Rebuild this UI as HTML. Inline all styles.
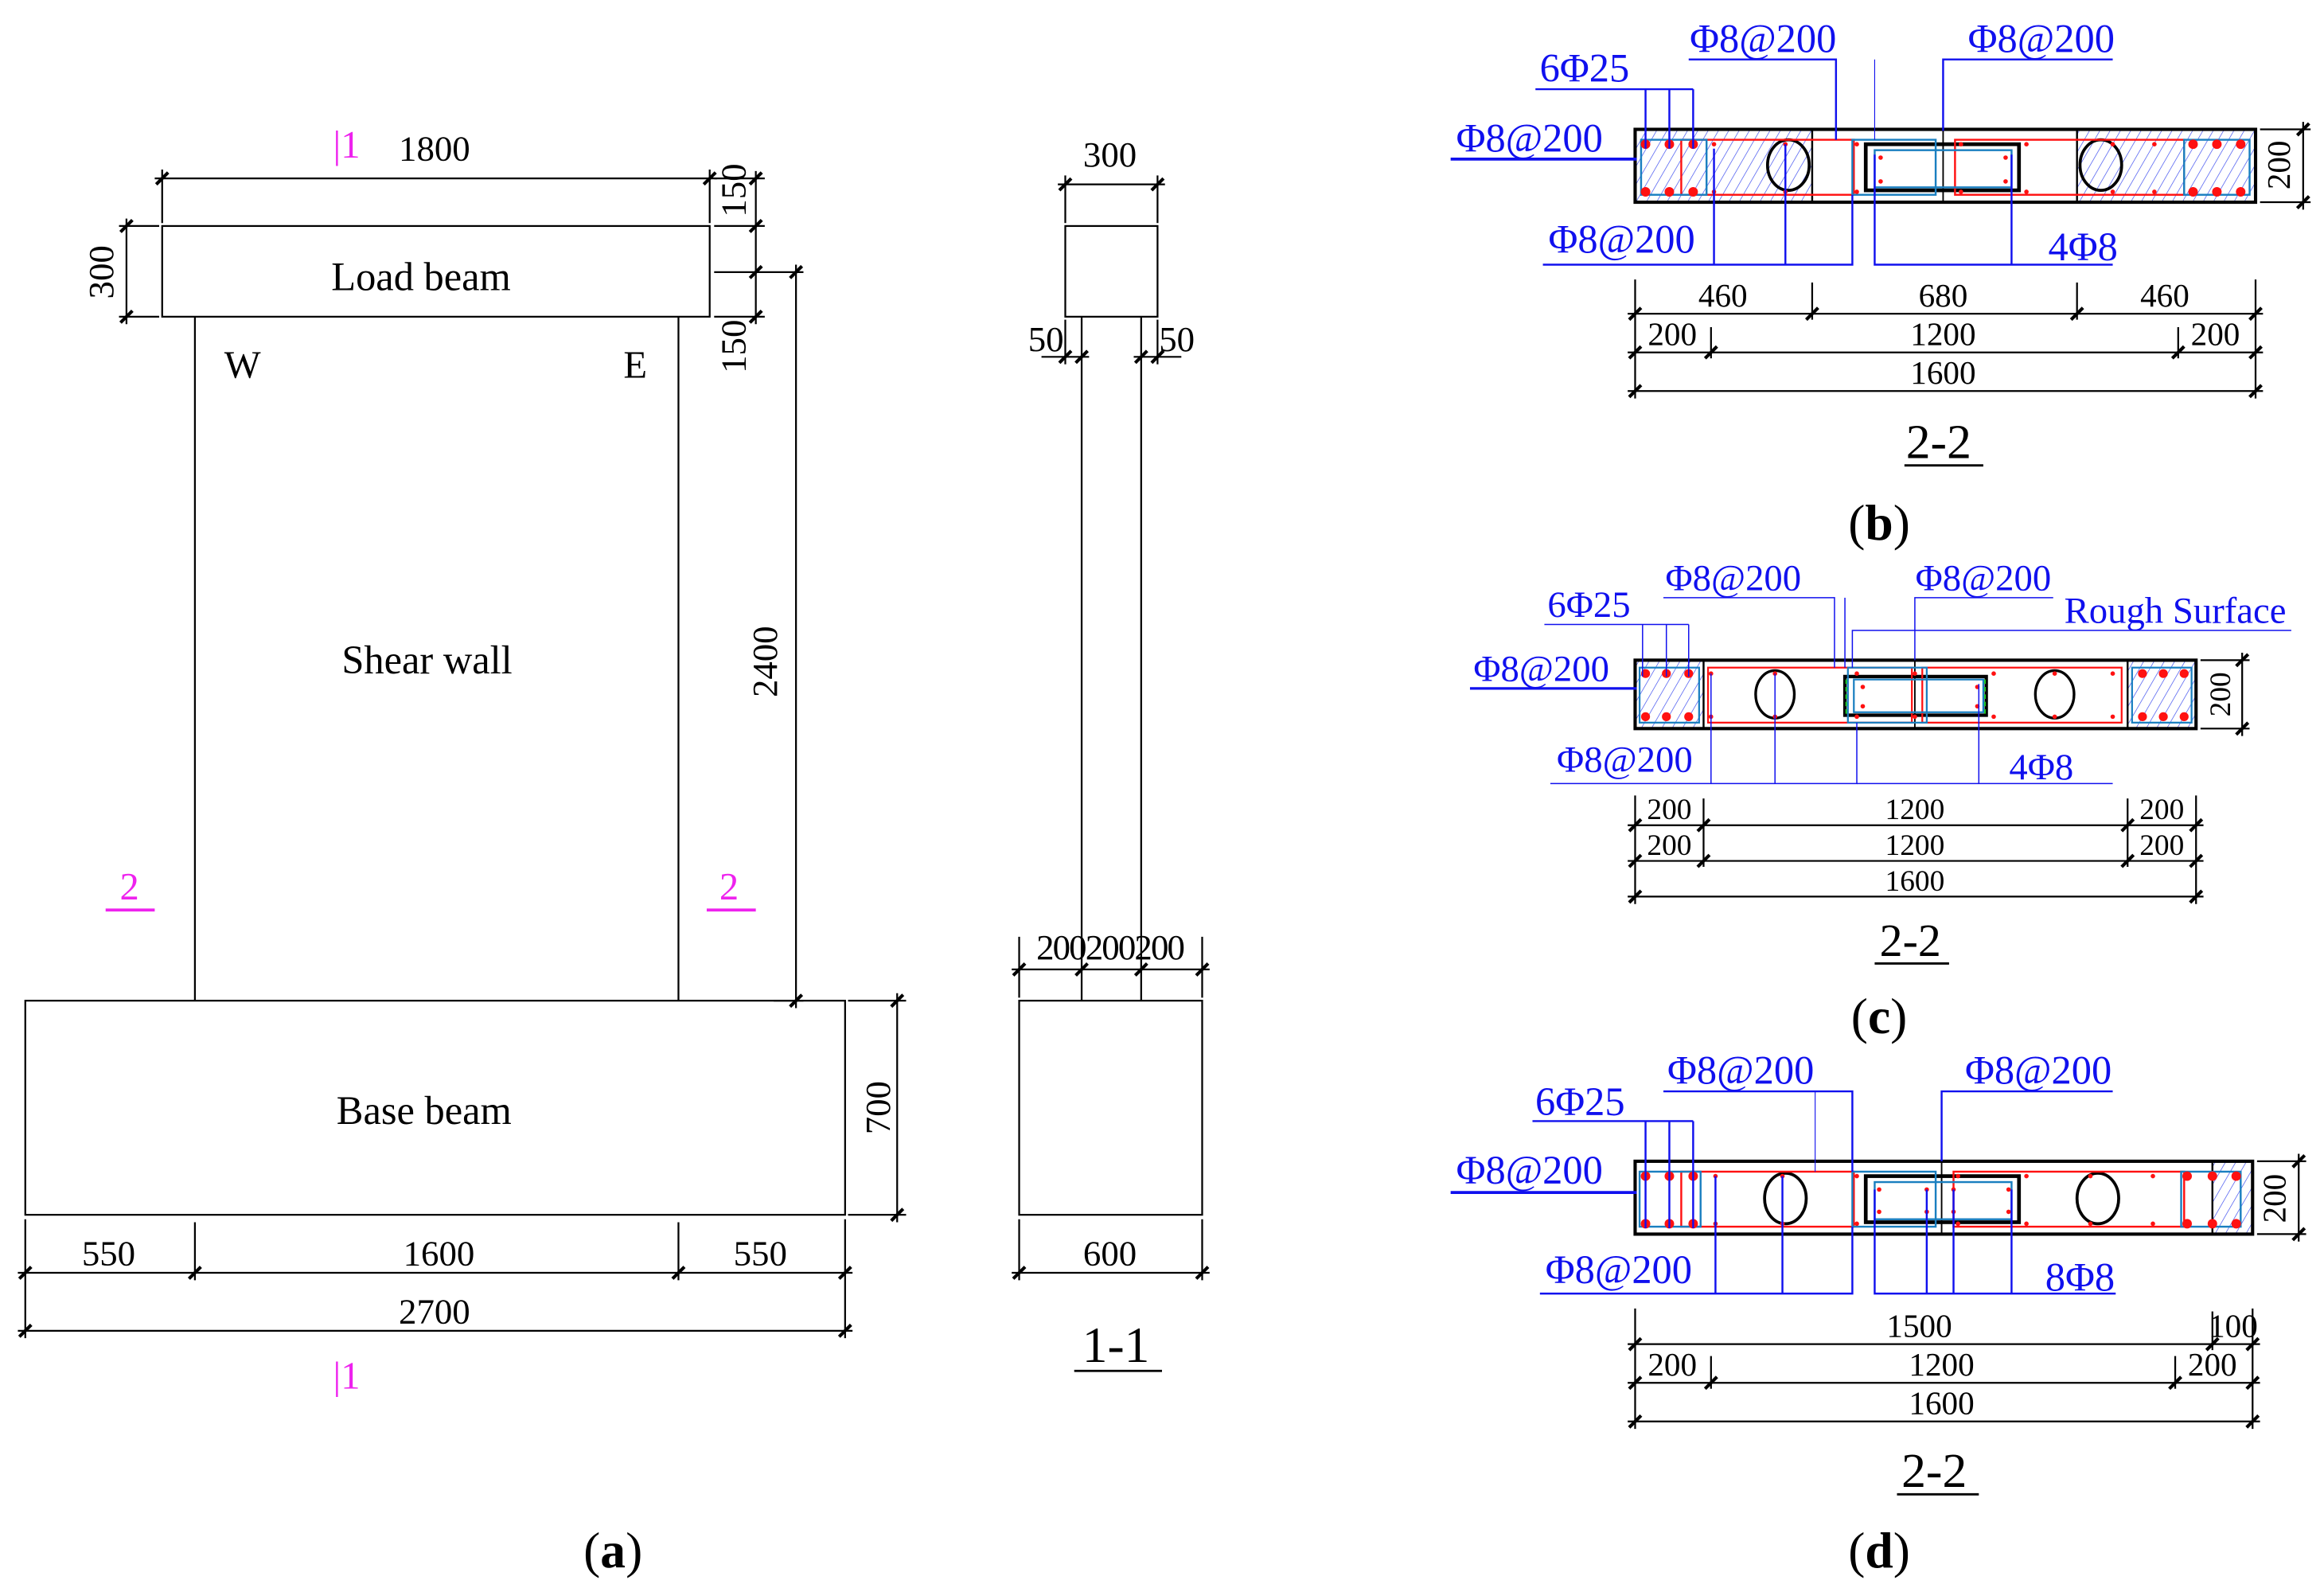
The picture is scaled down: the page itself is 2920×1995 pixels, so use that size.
<!DOCTYPE html>
<html><head><meta charset="utf-8"><style>
html,body{margin:0;padding:0;background:#fff;}
svg{display:block;}
text{font-family:"Liberation Serif",serif;}
</style></head><body>
<svg width="2920" height="1995" viewBox="0 0 1562 1068" preserveAspectRatio="none" xmlns="http://www.w3.org/2000/svg">
<defs>
<pattern id="h" patternUnits="userSpaceOnUse" width="6" height="6" patternTransform="rotate(30)">
<line x1="0" y1="0" x2="0" y2="6" stroke="#3344ee" stroke-width="0.7"/>
</pattern>
</defs>
<rect width="1562" height="1068" fill="#fff"/>

<!-- ===== Panel (a) ===== -->
<g stroke="#000" stroke-width="1.2" fill="none">
<rect x="109" y="152" width="368" height="61"/>
<line x1="131" y1="213" x2="131" y2="673"/>
<line x1="456" y1="213" x2="456" y2="673"/>
<rect x="17" y="673" width="551" height="144"/>
<!-- 1800 -->
<line x1="104" y1="120" x2="482" y2="120"/>
<line x1="109" y1="114" x2="109" y2="150"/><line x1="477" y1="114" x2="477" y2="150"/>
<!-- 300 -->
<line x1="85" y1="147" x2="85" y2="218"/>
<line x1="80" y1="152" x2="107" y2="152"/><line x1="80" y1="213" x2="107" y2="213"/>
<!-- right 150/150 -->
<line x1="508" y1="115" x2="508" y2="218"/>
<line x1="480" y1="120" x2="514" y2="120"/><line x1="480" y1="152" x2="514" y2="152"/>
<line x1="480" y1="183" x2="540" y2="183"/><line x1="480" y1="213" x2="514" y2="213"/>
<!-- 2400 -->
<line x1="535" y1="178" x2="535" y2="678"/>
<line x1="520" y1="673" x2="540" y2="673"/>
<!-- 700 -->
<line x1="603" y1="668" x2="603" y2="822"/>
<line x1="570" y1="673" x2="609" y2="673"/><line x1="570" y1="817" x2="609" y2="817"/>
<!-- bottom dims -->
<line x1="12" y1="856" x2="573" y2="856"/>
<line x1="12" y1="895" x2="573" y2="895"/>
<line x1="17" y1="820" x2="17" y2="900"/><line x1="568" y1="820" x2="568" y2="900"/>
<line x1="131" y1="822" x2="131" y2="861"/><line x1="456" y1="822" x2="456" y2="861"/>
</g>
<g stroke="#000" stroke-width="2.2">
<line x1="105" y1="124" x2="113" y2="116"/><line x1="473" y1="124" x2="481" y2="116"/>
<line x1="81" y1="156" x2="89" y2="148"/><line x1="81" y1="217" x2="89" y2="209"/>
<line x1="504" y1="124" x2="512" y2="116"/><line x1="504" y1="156" x2="512" y2="148"/>
<line x1="504" y1="187" x2="512" y2="179"/><line x1="504" y1="217" x2="512" y2="209"/>
<line x1="531" y1="187" x2="539" y2="179"/><line x1="531" y1="677" x2="539" y2="669"/>
<line x1="599" y1="677" x2="607" y2="669"/><line x1="599" y1="821" x2="607" y2="813"/>
<line x1="13" y1="860" x2="21" y2="852"/><line x1="127" y1="860" x2="135" y2="852"/>
<line x1="452" y1="860" x2="460" y2="852"/><line x1="564" y1="860" x2="572" y2="852"/>
<line x1="13" y1="899" x2="21" y2="891"/><line x1="564" y1="899" x2="572" y2="891"/>
</g>
<g font-size="24" fill="#000" text-anchor="middle">
<text x="292" y="108">1800</text>
<text x="283" y="195" font-size="27">Load beam</text>
<text x="287" y="453" font-size="27">Shear wall</text>
<text x="285" y="756" font-size="27">Base beam</text>
<text x="163" y="254" font-size="26">W</text>
<text x="427" y="254" font-size="26">E</text>
<text x="73" y="851">550</text><text x="295" y="851">1600</text><text x="511" y="851">550</text>
<text x="292" y="890">2700</text>
<text transform="translate(76,183) rotate(-90)">300</text>
<text transform="translate(501,128) rotate(-90)">150</text>
<text transform="translate(501,233) rotate(-90)">150</text>
<text transform="translate(522,445) rotate(-90)">2400</text>
<text transform="translate(598,745) rotate(-90)">700</text>
</g>
<g fill="#ee22ee" font-size="26" text-anchor="middle">
<text x="233" y="106">|1</text>
<text x="233" y="934">|1</text>
<text x="87" y="605">2</text>
<text x="490" y="605">2</text>
</g>
<g stroke="#ee22ee" stroke-width="2">
<line x1="71" y1="612" x2="104" y2="612"/><line x1="475" y1="612" x2="508" y2="612"/>
</g>

<!-- ===== Section 1-1 ===== -->
<g stroke="#000" stroke-width="1.2" fill="none">
<rect x="716" y="152" width="62" height="61"/>
<line x1="727" y1="213" x2="727" y2="673"/>
<line x1="767" y1="213" x2="767" y2="673"/>
<rect x="685" y="673" width="123" height="144"/>
<line x1="711" y1="124" x2="783" y2="124"/>
<line x1="716" y1="118" x2="716" y2="150"/><line x1="778" y1="118" x2="778" y2="150"/>
<line x1="700" y1="240" x2="732" y2="240"/><line x1="762" y1="240" x2="794" y2="240"/>
<line x1="716" y1="215" x2="716" y2="245"/><line x1="778" y1="215" x2="778" y2="245"/>
<line x1="680" y1="652" x2="813" y2="652"/>
<line x1="685" y1="630" x2="685" y2="671"/><line x1="808" y1="630" x2="808" y2="671"/>
<line x1="680" y1="856" x2="813" y2="856"/>
<line x1="685" y1="820" x2="685" y2="861"/><line x1="808" y1="820" x2="808" y2="861"/>
</g>
<g stroke="#000" stroke-width="2.2">
<line x1="712" y1="128" x2="720" y2="120"/><line x1="774" y1="128" x2="782" y2="120"/>
<line x1="712" y1="244" x2="720" y2="236"/><line x1="723" y1="244" x2="731" y2="236"/>
<line x1="763" y1="244" x2="771" y2="236"/><line x1="774" y1="244" x2="782" y2="236"/>
<line x1="681" y1="656" x2="689" y2="648"/><line x1="723" y1="656" x2="731" y2="648"/>
<line x1="763" y1="656" x2="771" y2="648"/><line x1="804" y1="656" x2="812" y2="648"/>
<line x1="681" y1="860" x2="689" y2="852"/><line x1="804" y1="860" x2="812" y2="852"/>
</g>
<g font-size="24" fill="#000" text-anchor="middle">
<text x="746" y="112">300</text>
<text x="703" y="236">50</text><text x="791" y="236">50</text>
<text x="746" y="645" letter-spacing="-1">200200200</text>
<text x="746" y="851">600</text>
<text x="750" y="916" font-size="34">1-1</text>
<text x="412" y="1054" font-size="34">(<tspan font-weight="bold">a</tspan>)</text>
<text x="1263" y="363" font-size="34">(<tspan font-weight="bold">b</tspan>)</text>
<text x="1263" y="695" font-size="34">(<tspan font-weight="bold">c</tspan>)</text>
<text x="1263" y="1054" font-size="34">(<tspan font-weight="bold">d</tspan>)</text>
</g>
<line x1="722" y1="922" x2="781" y2="922" stroke="#000" stroke-width="1.5"/>

<!-- ===== Panel (b) ===== -->
<g>
<rect x="1099" y="87" width="119" height="49" fill="url(#h)"/>
<rect x="1396" y="87" width="120" height="49" fill="url(#h)"/>
<g fill="none" stroke="#000">
<rect x="1099" y="87" width="417" height="49" stroke-width="2.2"/>
<line x1="1218" y1="87" x2="1218" y2="136" stroke-width="1.3"/>
<line x1="1396" y1="87" x2="1396" y2="136" stroke-width="1.3"/>
<rect x="1254" y="97" width="103" height="31" stroke-width="2.5"/>
<ellipse cx="1202" cy="111" rx="14" ry="17" stroke-width="2"/>
<ellipse cx="1412" cy="111" rx="14" ry="17" stroke-width="2"/>
<line x1="1306" y1="87" x2="1306" y2="136" stroke-width="1"/>
</g>
<g fill="none" stroke="#ff1111" stroke-width="1.3">
<rect x="1130" y="94" width="116" height="37"/>
<rect x="1314" y="94" width="154" height="37"/>
</g>
<g fill="none" stroke="#1a7fc0" stroke-width="1.3">
<rect x="1103" y="94" width="44" height="37"/>
<rect x="1468" y="94" width="44" height="37"/>
<rect x="1245" y="94" width="56" height="37"/>
<rect x="1260" y="101" width="92" height="25"/>
</g>
<g fill="#ff1111">
<circle cx="1106" cy="97" r="3.2"/><circle cx="1122" cy="97" r="3.2"/><circle cx="1138" cy="97" r="3.2"/>
<circle cx="1106" cy="129" r="3.2"/><circle cx="1122" cy="129" r="3.2"/><circle cx="1138" cy="129" r="3.2"/>
<circle cx="1474" cy="97" r="3.2"/><circle cx="1490" cy="97" r="3.2"/><circle cx="1506" cy="97" r="3.2"/>
<circle cx="1474" cy="129" r="3.2"/><circle cx="1490" cy="129" r="3.2"/><circle cx="1506" cy="129" r="3.2"/>
<circle cx="1152" cy="97" r="1.5"/><circle cx="1200" cy="97" r="1.5"/><circle cx="1152" cy="129" r="1.5"/><circle cx="1200" cy="129" r="1.5"/>
<circle cx="1248" cy="97" r="1.5"/><circle cx="1248" cy="129" r="1.5"/><circle cx="1318" cy="97" r="1.5"/><circle cx="1318" cy="129" r="1.5"/>
<circle cx="1362" cy="97" r="1.5"/><circle cx="1362" cy="129" r="1.5"/><circle cx="1420" cy="97" r="1.5"/><circle cx="1420" cy="129" r="1.5"/><circle cx="1448" cy="97" r="1.5"/><circle cx="1448" cy="129" r="1.5"/>
<circle cx="1264" cy="106" r="1.5"/><circle cx="1348" cy="106" r="1.5"/><circle cx="1264" cy="122" r="1.5"/><circle cx="1348" cy="122" r="1.5"/>
</g>
<g stroke="#1010ee" fill="none" stroke-width="1.3">
<polyline points="1032,60 1138,60"/>
<line x1="1106" y1="60" x2="1106" y2="100"/><line x1="1122" y1="60" x2="1122" y2="100"/><line x1="1138" y1="60" x2="1138" y2="100"/>
<polyline points="1135,40 1234,40 1234,94"/>
<line x1="1260" y1="40" x2="1260" y2="94" stroke-width="0.6"/>
<polyline points="1420,40 1306,40 1306,88"/>
<line x1="975" y1="107" x2="1100" y2="107" stroke-width="2"/>
<polyline points="1037,178 1245,178 1245,131"/>
<line x1="1152" y1="178" x2="1152" y2="100"/><line x1="1200" y1="178" x2="1200" y2="97"/>
<polyline points="1420,178 1260,178 1260,104"/>
<line x1="1352" y1="178" x2="1352" y2="104"/>
</g>
<g fill="#1010ee" font-size="27" text-anchor="middle">
<text x="1065" y="55">6Φ25</text>
<text x="1185" y="35">Φ8@200</text>
<text x="1372" y="35">Φ8@200</text>
<text x="1028" y="102">Φ8@200</text>
<text x="1090" y="170">Φ8@200</text>
<text x="1400" y="175">4Φ8</text>
</g>
<g stroke="#000" stroke-width="1.2" fill="none">
<line x1="1519" y1="87" x2="1553" y2="87"/><line x1="1519" y1="136" x2="1553" y2="136"/>
<line x1="1548" y1="82" x2="1548" y2="141"/>
<line x1="1094" y1="211" x2="1521" y2="211"/>
<line x1="1094" y1="237" x2="1521" y2="237"/>
<line x1="1094" y1="263" x2="1521" y2="263"/>
<line x1="1099" y1="188" x2="1099" y2="268"/><line x1="1516" y1="188" x2="1516" y2="268"/>
<line x1="1218" y1="190" x2="1218" y2="215"/><line x1="1396" y1="190" x2="1396" y2="215"/>
<line x1="1150" y1="220" x2="1150" y2="241"/><line x1="1464" y1="220" x2="1464" y2="241"/>
</g>
<g stroke="#000" stroke-width="2.2">
<line x1="1544" y1="91" x2="1552" y2="83"/><line x1="1544" y1="140" x2="1552" y2="132"/>
<line x1="1095" y1="215" x2="1103" y2="207"/><line x1="1214" y1="215" x2="1222" y2="207"/><line x1="1392" y1="215" x2="1400" y2="207"/><line x1="1512" y1="215" x2="1520" y2="207"/>
<line x1="1095" y1="241" x2="1103" y2="233"/><line x1="1146" y1="241" x2="1154" y2="233"/><line x1="1460" y1="241" x2="1468" y2="233"/><line x1="1512" y1="241" x2="1520" y2="233"/>
<line x1="1095" y1="267" x2="1103" y2="259"/><line x1="1512" y1="267" x2="1520" y2="259"/>
</g>
<g font-size="22" text-anchor="middle" fill="#000">
<text transform="translate(1539,111) rotate(-90)">200</text>
<text x="1158" y="206">460</text><text x="1306" y="206">680</text><text x="1455" y="206">460</text>
<text x="1124" y="232">200</text><text x="1306" y="232">1200</text><text x="1489" y="232">200</text>
<text x="1306" y="258">1600</text>
<text x="1303" y="308" font-size="33">2-2</text>
</g>
<line x1="1280" y1="313" x2="1333" y2="313" stroke="#000" stroke-width="1.5"/>
</g>

<!-- ===== Panel (c) ===== -->
<g>
<rect x="1099" y="444" width="46" height="46" fill="url(#h)"/>
<rect x="1430" y="444" width="46" height="46" fill="url(#h)"/>
<g fill="none" stroke="#000">
<rect x="1099" y="444" width="377" height="46" stroke-width="2.2"/>
<line x1="1145" y1="444" x2="1145" y2="490" stroke-width="1.3"/>
<line x1="1430" y1="444" x2="1430" y2="490" stroke-width="1.3"/>
<rect x="1240" y="455" width="95" height="26" stroke-width="2.3"/>
<ellipse cx="1193" cy="467" rx="13" ry="16" stroke-width="1.8"/>
<ellipse cx="1381" cy="467" rx="13" ry="16" stroke-width="1.8"/>
<line x1="1287" y1="444" x2="1287" y2="490" stroke-width="1"/>
</g>
<line x1="1241" y1="457" x2="1241" y2="480" stroke="#22cc22" stroke-width="1.3" stroke-dasharray="3,2"/>
<line x1="1334" y1="457" x2="1334" y2="480" stroke="#22cc22" stroke-width="1.3" stroke-dasharray="3,2"/>
<g fill="none" stroke="#ff1111" stroke-width="1.2">
<rect x="1148" y="449" width="137" height="37"/>
<rect x="1292" y="449" width="134" height="37"/>
</g>
<g fill="none" stroke="#1a7fc0" stroke-width="1.2">
<rect x="1102" y="449" width="40" height="37"/>
<rect x="1433" y="449" width="40" height="37"/>
<rect x="1242" y="449" width="53" height="37"/>
<rect x="1246" y="457" width="87" height="22"/>
</g>
<g fill="#ff1111">
<circle cx="1106" cy="453" r="3"/><circle cx="1120" cy="453" r="3"/><circle cx="1135" cy="453" r="3"/>
<circle cx="1106" cy="482" r="3"/><circle cx="1120" cy="482" r="3"/><circle cx="1135" cy="482" r="3"/>
<circle cx="1440" cy="453" r="3"/><circle cx="1454" cy="453" r="3"/><circle cx="1468" cy="453" r="3"/>
<circle cx="1440" cy="482" r="3"/><circle cx="1454" cy="482" r="3"/><circle cx="1468" cy="482" r="3"/>
<circle cx="1150" cy="453" r="1.5"/><circle cx="1193" cy="453" r="1.5"/><circle cx="1150" cy="482" r="1.5"/><circle cx="1193" cy="482" r="1.5"/>
<circle cx="1248" cy="453" r="1.5"/><circle cx="1248" cy="482" r="1.5"/><circle cx="1287" cy="453" r="1.5"/><circle cx="1287" cy="482" r="1.5"/>
<circle cx="1340" cy="453" r="1.5"/><circle cx="1340" cy="482" r="1.5"/><circle cx="1381" cy="453" r="1.5"/><circle cx="1381" cy="482" r="1.5"/><circle cx="1420" cy="453" r="1.5"/><circle cx="1420" cy="482" r="1.5"/>
<circle cx="1252" cy="462" r="1.5"/><circle cx="1329" cy="462" r="1.5"/><circle cx="1252" cy="475" r="1.5"/><circle cx="1329" cy="475" r="1.5"/>
</g>
<g stroke="#1010ee" fill="none" stroke-width="0.8">
<polyline points="1038,420 1135,420"/>
<line x1="1104" y1="420" x2="1104" y2="455"/><line x1="1120" y1="420" x2="1120" y2="455"/><line x1="1135" y1="420" x2="1135" y2="455"/>
<polyline points="1118,402 1233,402 1233,449"/>
<line x1="1240" y1="402" x2="1240" y2="449"/>
<polyline points="1380,402 1287,402 1287,444"/>
<polyline points="1540,424 1245,424 1245,449"/>
<line x1="988" y1="463" x2="1100" y2="463" stroke-width="1.8"/>
<polyline points="1042,527 1248,527 1248,486"/>
<line x1="1150" y1="527" x2="1150" y2="453"/><line x1="1193" y1="527" x2="1193" y2="453"/>
<polyline points="1420,527 1248,527"/>
<line x1="1330" y1="527" x2="1330" y2="460"/>
</g>
<g fill="#1010ee" font-size="25" text-anchor="middle">
<text x="1068" y="415">6Φ25</text>
<text x="1165" y="397">Φ8@200</text>
<text x="1333" y="397">Φ8@200</text>
<text x="1462" y="419">Rough Surface</text>
<text x="1036" y="458">Φ8@200</text>
<text x="1092" y="519">Φ8@200</text>
<text x="1372" y="524">4Φ8</text>
</g>
<g stroke="#000" stroke-width="1.2" fill="none">
<line x1="1479" y1="444" x2="1512" y2="444"/><line x1="1479" y1="490" x2="1512" y2="490"/>
<line x1="1507" y1="439" x2="1507" y2="495"/>
<line x1="1094" y1="555" x2="1481" y2="555"/>
<line x1="1094" y1="579" x2="1481" y2="579"/>
<line x1="1094" y1="603" x2="1481" y2="603"/>
<line x1="1099" y1="535" x2="1099" y2="608"/><line x1="1476" y1="535" x2="1476" y2="608"/>
<line x1="1145" y1="537" x2="1145" y2="583"/><line x1="1430" y1="537" x2="1430" y2="583"/>
</g>
<g stroke="#000" stroke-width="2.2">
<line x1="1503" y1="448" x2="1511" y2="440"/><line x1="1503" y1="494" x2="1511" y2="486"/>
<line x1="1095" y1="559" x2="1103" y2="551"/><line x1="1141" y1="559" x2="1149" y2="551"/><line x1="1426" y1="559" x2="1434" y2="551"/><line x1="1472" y1="559" x2="1480" y2="551"/>
<line x1="1095" y1="583" x2="1103" y2="575"/><line x1="1141" y1="583" x2="1149" y2="575"/><line x1="1426" y1="583" x2="1434" y2="575"/><line x1="1472" y1="583" x2="1480" y2="575"/>
<line x1="1095" y1="607" x2="1103" y2="599"/><line x1="1472" y1="607" x2="1480" y2="599"/>
</g>
<g font-size="20" text-anchor="middle" fill="#000">
<text transform="translate(1499,467) rotate(-90)">200</text>
<text x="1122" y="551">200</text><text x="1287" y="551">1200</text><text x="1453" y="551">200</text>
<text x="1122" y="575">200</text><text x="1287" y="575">1200</text><text x="1453" y="575">200</text>
<text x="1287" y="599">1600</text>
<text x="1284" y="643" font-size="31">2-2</text>
</g>
<line x1="1260" y1="648" x2="1310" y2="648" stroke="#000" stroke-width="1.5"/>
</g>

<!-- ===== Panel (d) ===== -->
<g>
<rect x="1487" y="781" width="27" height="49" fill="url(#h)"/>
<g fill="none" stroke="#000">
<rect x="1099" y="781" width="415" height="49" stroke-width="2.2"/>
<line x1="1487" y1="781" x2="1487" y2="830" stroke-width="1.3"/>
<rect x="1254" y="791" width="103" height="31" stroke-width="2.5"/>
<ellipse cx="1200" cy="806" rx="14" ry="17" stroke-width="2"/>
<ellipse cx="1410" cy="806" rx="14" ry="17" stroke-width="2"/>
<line x1="1305" y1="781" x2="1305" y2="830" stroke-width="1"/>
</g>
<g fill="none" stroke="#ff1111" stroke-width="1.3">
<rect x="1130" y="788" width="116" height="37"/>
<rect x="1313" y="788" width="155" height="37"/>
</g>
<g fill="none" stroke="#1a7fc0" stroke-width="1.3">
<rect x="1102" y="788" width="41" height="37"/>
<rect x="1466" y="788" width="40" height="37"/>
<rect x="1245" y="788" width="56" height="37"/>
<rect x="1260" y="795" width="92" height="25"/>
</g>
<g fill="#ff1111">
<circle cx="1106" cy="791" r="3.2"/><circle cx="1122" cy="791" r="3.2"/><circle cx="1138" cy="791" r="3.2"/>
<circle cx="1106" cy="823" r="3.2"/><circle cx="1122" cy="823" r="3.2"/><circle cx="1138" cy="823" r="3.2"/>
<circle cx="1470" cy="791" r="3.2"/><circle cx="1487" cy="791" r="3.2"/><circle cx="1503" cy="791" r="3.2"/>
<circle cx="1470" cy="823" r="3.2"/><circle cx="1487" cy="823" r="3.2"/><circle cx="1503" cy="823" r="3.2"/>
<circle cx="1153" cy="791" r="1.5"/><circle cx="1198" cy="791" r="1.5"/><circle cx="1153" cy="823" r="1.5"/><circle cx="1198" cy="823" r="1.5"/>
<circle cx="1248" cy="791" r="1.5"/><circle cx="1248" cy="823" r="1.5"/><circle cx="1316" cy="791" r="1.5"/><circle cx="1316" cy="823" r="1.5"/>
<circle cx="1362" cy="791" r="1.5"/><circle cx="1362" cy="823" r="1.5"/><circle cx="1405" cy="791" r="1.5"/><circle cx="1405" cy="823" r="1.5"/><circle cx="1447" cy="791" r="1.5"/><circle cx="1447" cy="823" r="1.5"/>
<circle cx="1263" cy="800" r="1.5"/><circle cx="1295" cy="800" r="1.5"/><circle cx="1313" cy="800" r="1.5"/><circle cx="1350" cy="800" r="1.5"/>
<circle cx="1263" cy="815" r="1.5"/><circle cx="1295" cy="815" r="1.5"/><circle cx="1313" cy="815" r="1.5"/><circle cx="1350" cy="815" r="1.5"/>
</g>
<g stroke="#1010ee" fill="none" stroke-width="1.3">
<polyline points="1030,754 1138,754"/>
<line x1="1106" y1="754" x2="1106" y2="826"/><line x1="1122" y1="754" x2="1122" y2="826"/><line x1="1138" y1="754" x2="1138" y2="826"/>
<polyline points="1118,734 1245,734 1245,788"/>
<line x1="1220" y1="734" x2="1220" y2="788" stroke-width="0.6"/>
<polyline points="1420,734 1305,734 1305,781"/>
<line x1="975" y1="802" x2="1100" y2="802" stroke-width="2"/>
<polyline points="1035,870 1245,870 1245,825"/>
<line x1="1153" y1="870" x2="1153" y2="791"/><line x1="1198" y1="870" x2="1198" y2="791"/>
<polyline points="1422,870 1260,870 1260,800"/>
<line x1="1295" y1="870" x2="1295" y2="800"/><line x1="1313" y1="870" x2="1313" y2="800"/><line x1="1352" y1="870" x2="1352" y2="800"/>
</g>
<g fill="#1010ee" font-size="27" text-anchor="middle">
<text x="1062" y="750">6Φ25</text>
<text x="1170" y="729">Φ8@200</text>
<text x="1370" y="729">Φ8@200</text>
<text x="1028" y="796">Φ8@200</text>
<text x="1088" y="863">Φ8@200</text>
<text x="1398" y="868">8Φ8</text>
</g>
<g stroke="#000" stroke-width="1.2" fill="none">
<line x1="1517" y1="781" x2="1550" y2="781"/><line x1="1517" y1="830" x2="1550" y2="830"/>
<line x1="1545" y1="776" x2="1545" y2="835"/>
<line x1="1094" y1="904" x2="1519" y2="904"/>
<line x1="1094" y1="930" x2="1519" y2="930"/>
<line x1="1094" y1="956" x2="1519" y2="956"/>
<line x1="1099" y1="880" x2="1099" y2="961"/><line x1="1514" y1="880" x2="1514" y2="961"/>
<line x1="1487" y1="882" x2="1487" y2="908"/>
<line x1="1150" y1="912" x2="1150" y2="934"/><line x1="1462" y1="912" x2="1462" y2="934"/>
</g>
<g stroke="#000" stroke-width="2.2">
<line x1="1541" y1="785" x2="1549" y2="777"/><line x1="1541" y1="834" x2="1549" y2="826"/>
<line x1="1095" y1="908" x2="1103" y2="900"/><line x1="1483" y1="908" x2="1491" y2="900"/><line x1="1510" y1="908" x2="1518" y2="900"/>
<line x1="1095" y1="934" x2="1103" y2="926"/><line x1="1146" y1="934" x2="1154" y2="926"/><line x1="1458" y1="934" x2="1466" y2="926"/><line x1="1510" y1="934" x2="1518" y2="926"/>
<line x1="1095" y1="960" x2="1103" y2="952"/><line x1="1510" y1="960" x2="1518" y2="952"/>
</g>
<g font-size="22" text-anchor="middle" fill="#000">
<text transform="translate(1536,806) rotate(-90)">200</text>
<text x="1290" y="899">1500</text><text x="1501" y="899">100</text>
<text x="1124" y="925">200</text><text x="1305" y="925">1200</text><text x="1487" y="925">200</text>
<text x="1305" y="951">1600</text>
<text x="1300" y="1000" font-size="33">2-2</text>
</g>
<line x1="1275" y1="1005" x2="1330" y2="1005" stroke="#000" stroke-width="1.5"/>
</g>
</svg>
</body></html>
